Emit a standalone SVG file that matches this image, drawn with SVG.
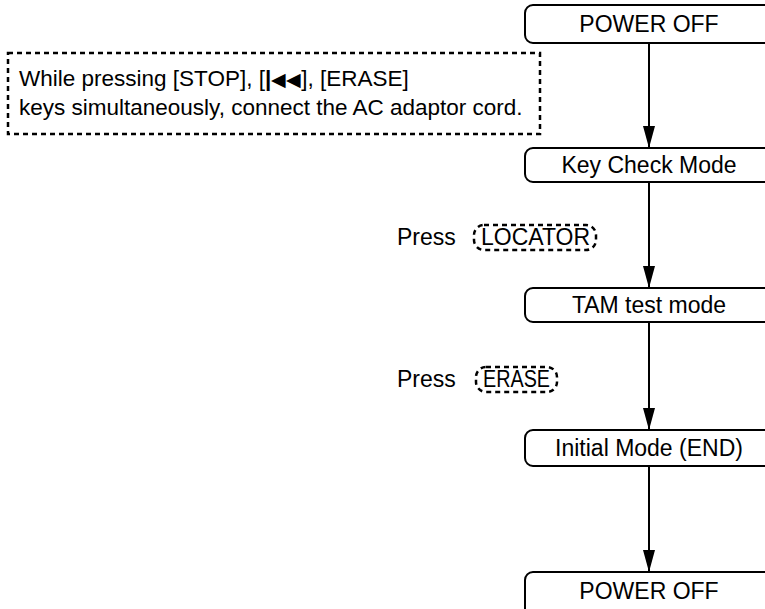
<svg xmlns="http://www.w3.org/2000/svg" width="765" height="609" viewBox="0 0 765 609">
<style>
text{font-family:"Liberation Sans",Arial,sans-serif;font-size:23px;fill:#000}
.box{fill:#fff;stroke:#000;stroke-width:2}
.dash{fill:none;stroke:#000;stroke-width:2.5;stroke-dasharray:5,4}
.ln{stroke:#000;stroke-width:2;fill:none}
.c{text-anchor:middle}
.note{font-size:22.5px}
</style>
<defs>
<marker id="ah" markerWidth="22" markerHeight="12" refX="22" refY="6" orient="auto" markerUnits="userSpaceOnUse" viewBox="0 0 22 12">
<path d="M0,0 L22,6 L0,12 Z" fill="#000"/>
</marker>
</defs>
<rect width="765" height="609" fill="#fff"/>
<g id="connectors">
<line class="ln" x1="649" y1="43" x2="649" y2="148" marker-end="url(#ah)"/>
<line class="ln" x1="649" y1="182" x2="649" y2="288" marker-end="url(#ah)"/>
<line class="ln" x1="649" y1="322" x2="649" y2="430" marker-end="url(#ah)"/>
<line class="ln" x1="649" y1="466" x2="649" y2="572" marker-end="url(#ah)"/>
</g>
<g id="n1"><rect class="box" x="525" y="5" width="260" height="38" rx="8"/><text class="c" x="649" y="32">POWER OFF</text></g>
<g id="note"><rect class="dash" x="8" y="53" width="532" height="81"/>
<text class="note" x="19" y="86">While pressing [STOP], [<tspan font-weight="bold">|</tspan><tspan font-size="19">◀◀</tspan>], [ERASE]</text>
<text class="note" x="19" y="115">keys simultaneously, connect the AC adaptor cord.</text></g>
<g id="n2"><rect class="box" x="525" y="148" width="260" height="34" rx="8"/><text class="c" x="649" y="173">Key Check Mode</text></g>
<g id="l1"><text x="397" y="245">Press</text><rect class="dash" x="474" y="225" width="122" height="25" rx="10"/><text x="481" y="245" textLength="109" lengthAdjust="spacingAndGlyphs">LOCATOR</text></g>
<g id="n3"><rect class="box" x="525" y="288" width="260" height="34" rx="8"/><text class="c" x="649" y="313">TAM test mode</text></g>
<g id="l2"><text x="397" y="387">Press</text><rect class="dash" x="476" y="367" width="81" height="25" rx="10"/><text x="483" y="387" textLength="67" lengthAdjust="spacingAndGlyphs">ERASE</text></g>
<g id="n4"><rect class="box" x="525" y="430" width="260" height="36" rx="8"/><text class="c" x="649" y="456">Initial Mode (END)</text></g>
<g id="n5"><rect class="box" x="525" y="572" width="260" height="48" rx="8"/><text class="c" x="649" y="599">POWER OFF</text></g>
</svg>
